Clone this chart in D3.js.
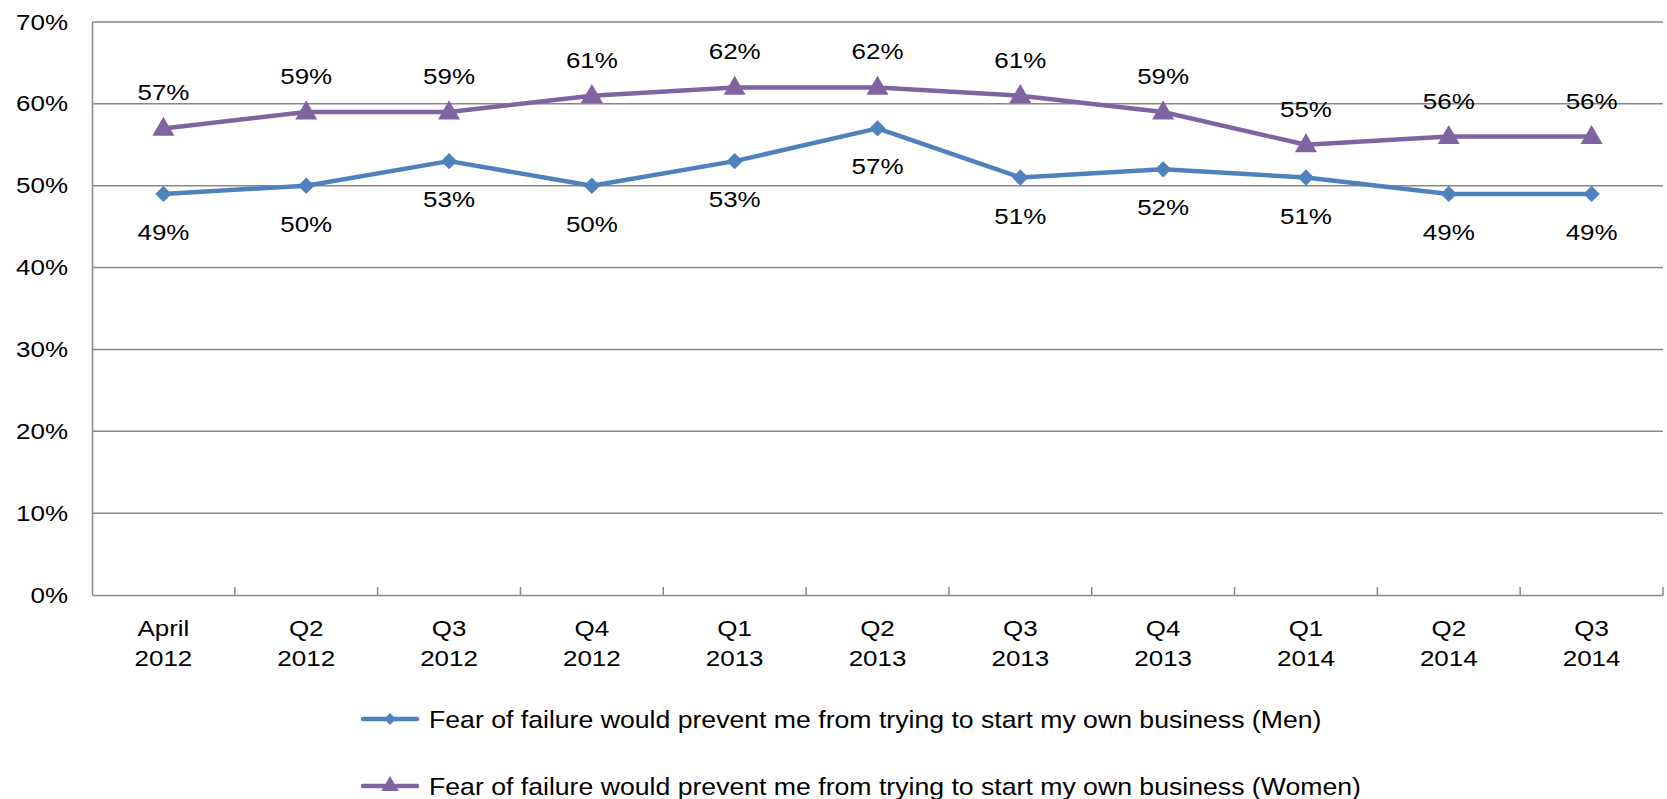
<!DOCTYPE html>
<html><head><meta charset="utf-8">
<script src="https://cdn.jsdelivr.net/npm/d3@7"></script>
<style>body{margin:0;background:#fff}svg{display:block;font-family:"Liberation Sans",Arial,sans-serif}</style>
</head><body><svg id="c" width="1667" height="799"></svg>
<script>
const categories = [["April","2012"],["Q2","2012"],["Q3","2012"],["Q4","2012"],["Q1","2013"],["Q2","2013"],["Q3","2013"],["Q4","2013"],["Q1","2014"],["Q2","2014"],["Q3","2014"]];
const menValues = [49,50,53,50,53,57,51,52,51,49,49];
const womenValues = [57,59,59,61,62,62,61,59,55,56,56];
const yTicks = [0,10,20,30,40,50,60,70];
const seriesNames = ["Fear of failure would prevent me from trying to start my own business (Men)","Fear of failure would prevent me from trying to start my own business (Women)"];

const svg = d3.select("#c");
const L=92, R=1663, T=22, B=595;
const x = d3.scaleBand().domain(d3.range(categories.length)).range([L,R]);
const y = d3.scaleLinear().domain([0,70]).range([B,T]);
const fs = 22, sx = 1.18;

// gridlines
svg.append("g").selectAll("line").data(yTicks.filter(d=>d>0)).join("line")
  .attr("x1",L).attr("x2",R).attr("y1",d=>y(d)).attr("y2",d=>y(d))
  .attr("stroke","#888").attr("stroke-width",1.5);
// axes
const yAxis = svg.append("g").attr("transform",`translate(${L},0)`)
  .call(d3.axisLeft(y).tickValues(yTicks).tickSize(0).tickPadding(24).tickFormat(d=>d+"%"));
yAxis.select(".domain").attr("stroke","#888").attr("stroke-width",1.5);
yAxis.selectAll("text").attr("font-size",fs).attr("fill","#000").attr("font-family","Liberation Sans, Arial, sans-serif")
  .attr("x",-24/sx).attr("transform",`scale(${sx},1)`);

const xAxis = svg.append("g").attr("transform",`translate(0,${B})`)
  .call(d3.axisBottom(x).tickSize(0).tickFormat(""));
xAxis.select(".domain").attr("stroke","#888").attr("stroke-width",1.5);
// category boundary ticks
const bounds = d3.range(categories.length+1).map(i=>L+i*x.step());
svg.append("g").selectAll("line").data(bounds.slice(1)).join("line")
  .attr("x1",d=>d).attr("x2",d=>d).attr("y1",B).attr("y2",B-8)
  .attr("stroke","#888").attr("stroke-width",1.5);
const cx = i=>x(i)+x.bandwidth()/2;
// category labels
const cl = svg.append("g").selectAll("text").data(categories).join("text")
  .attr("transform",(d,i)=>`translate(${cx(i)},0) scale(${sx},1)`).attr("text-anchor","middle").attr("font-size",fs);
cl.append("tspan").attr("x",0).attr("y",636).text(d=>d[0]);
cl.append("tspan").attr("x",0).attr("y",666).text(d=>d[1]);

const line = d3.line().x((d,i)=>cx(i)).y(d=>y(d));
const blue="#4F81BD", purple="#8064A2";

svg.append("path").datum(menValues).attr("d",line).attr("fill","none").attr("stroke",blue).attr("stroke-width",4.5).attr("stroke-linejoin","round");
svg.append("path").datum(womenValues).attr("d",line).attr("fill","none").attr("stroke",purple).attr("stroke-width",4.5).attr("stroke-linejoin","round");

const diamond = d3.symbol().type(d3.symbolDiamond2).size(170);
const tri = d3.symbol().type(d3.symbolTriangle).size(210);
svg.append("g").selectAll("path").data(menValues).join("path")
  .attr("transform",(d,i)=>`translate(${cx(i)},${y(d)})`).attr("d",diamond).attr("fill",blue);
svg.append("g").selectAll("path").data(womenValues).join("path")
  .attr("transform",(d,i)=>`translate(${cx(i)},${y(d)+1})`).attr("d",tri).attr("fill",purple);

// data labels
svg.append("g").selectAll("text").data(menValues).join("text")
  .attr("transform",(d,i)=>`translate(${cx(i)},${y(d)+46}) scale(${sx},1)`).attr("text-anchor","middle").attr("font-size",fs).text(d=>d+"%");
svg.append("g").selectAll("text").data(womenValues).join("text")
  .attr("transform",(d,i)=>`translate(${cx(i)},${y(d)-28}) scale(${sx},1)`).attr("text-anchor","middle").attr("font-size",fs).text(d=>d+"%");

// legend
const lg = svg.append("g");
[[blue,719],[purple,786]].forEach((s,k)=>{
  const gy=s[1];
  lg.append("line").attr("x1",363).attr("x2",417).attr("y1",gy).attr("y2",gy).attr("stroke",s[0]).attr("stroke-width",4.5).attr("stroke-linecap","round");
  lg.append("path").attr("transform",`translate(390,${gy})`).attr("d",k===0?d3.symbol().type(d3.symbolDiamond2).size(90)():d3.symbol().type(d3.symbolTriangle).size(130)()).attr("fill",s[0]);
  lg.append("text").attr("transform",`translate(429,${gy+9}) scale(1.11,1)`).attr("font-size",24).text(seriesNames[k]);
});
</script></body></html>
